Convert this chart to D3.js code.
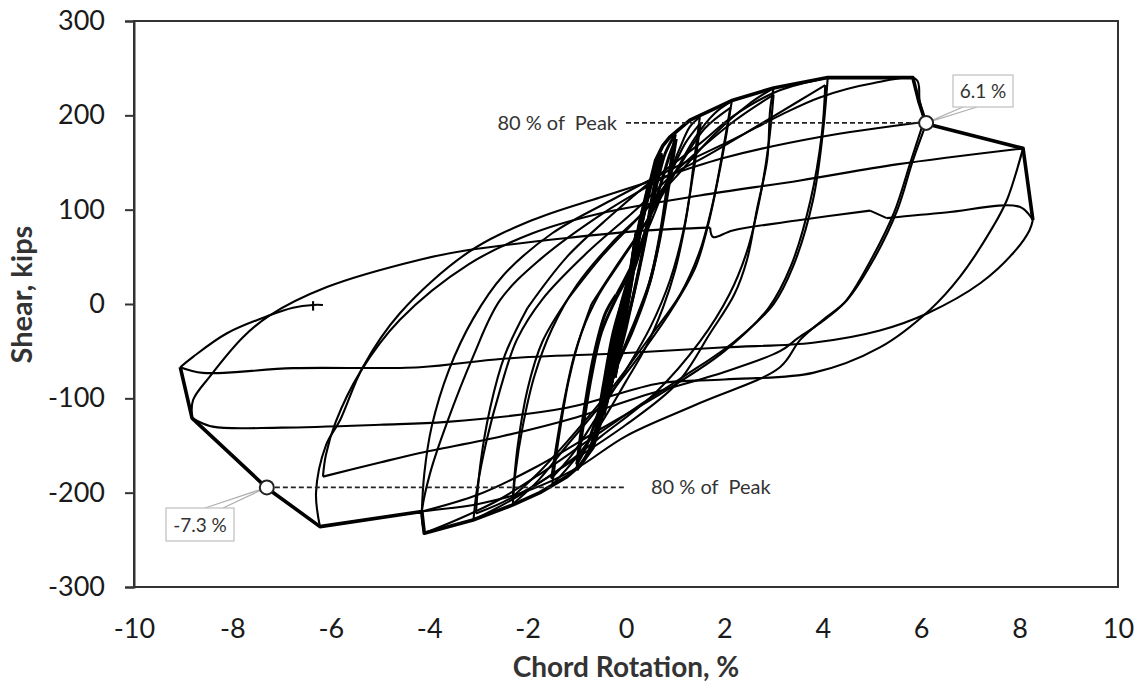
<!DOCTYPE html>
<html>
<head>
<meta charset="utf-8">
<script src="https://cdn.jsdelivr.net/npm/d3@7/dist/d3.min.js"></script>
<style>
  html, body { margin: 0; padding: 0; background: #fff; }
  svg { display: block; font-family: Lato, "Open Sans", sans-serif; }
</style>
</head>
<body>
<svg id="chart" width="1138" height="686"></svg>
<script>
// Axis ticks
const xTicks = [-10, -8, -6, -4, -2, 0, 2, 4, 6, 8, 10];
const yTicks = [-300, -200, -100, 0, 100, 200, 300];

// Hysteresis history, one array per drift level; each entry is one branch
// (load or unload) as [chord rotation %, shear kips] pairs.
const loops025 = [
  [[0, 0], [0.1, 38], [0.2, 74]],
  [[0.2, 74], [0.1, 36], [0, -2], [-0.1, -40], [-0.2, -72]],
  [[-0.2, -72], [-0.1, -34], [0, 3], [0.1, 40], [0.21, 76]],
  [[0.21, 76], [0.1, 32], [-0.02, -12], [-0.12, -48], [-0.22, -78]],
  [[-0.22, -78], [-0.1, -30], [0, 2]]
];
const loops035 = [
  [[0, 2], [0.14, 46], [0.27, 86], [0.38, 108]],
  [[0.38, 108], [0.25, 70], [0.1, 22], [-0.06, -26], [-0.22, -68], [-0.38, -102]],
  [[-0.38, -102], [-0.26, -64], [-0.1, -18], [0.06, 26], [0.21, 68], [0.37, 104]],
  [[0.37, 104], [0.22, 60], [0.06, 12], [-0.1, -36], [-0.26, -76], [-0.4, -106]],
  [[-0.4, -106], [-0.22, -54], [0, 2]]
];
const loops050 = [
  [[0, 2], [0.15, 48], [0.3, 92], [0.45, 125]],
  [[0.45, 125], [0.33, 92], [0.18, 45], [0.04, 0], [-0.12, -42], [-0.3, -86], [-0.45, -118]],
  [[-0.45, -118], [-0.34, -82], [-0.18, -36], [0, 6], [0.16, 50], [0.32, 94], [0.47, 122]],
  [[0.47, 122], [0.32, 84], [0.15, 34], [0, -10], [-0.18, -56], [-0.34, -94], [-0.47, -116]],
  [[-0.47, -116], [-0.3, -64], [-0.12, -14], [-0.02, 10]]
];
const loops075 = [
  [[-0.02, 10], [0.2, 58], [0.4, 106], [0.55, 140], [0.72, 160]],
  [[0.72, 160], [0.56, 122], [0.36, 62], [0.16, 12], [0, -26], [-0.2, -66], [-0.42, -108], [-0.62, -145]],
  [[-0.62, -145], [-0.48, -100], [-0.3, -46], [-0.1, 0], [0.15, 46], [0.4, 102], [0.6, 142], [0.74, 158]],
  [[0.74, 158], [0.53, 104], [0.3, 44], [0.1, -2], [-0.16, -48], [-0.4, -100], [-0.63, -140]],
  [[-0.63, -140], [-0.46, -86], [-0.26, -30], [-0.06, 6]]
];
const loops100 = [
  [[-0.06, 6], [0.2, 42], [0.45, 88], [0.65, 132], [0.8, 160], [1.0, 180]],
  [[1.0, 180], [0.86, 132], [0.7, 76], [0.5, 26], [0.25, -10], [0, -42], [-0.3, -82], [-0.55, -122], [-0.76, -156], [-1.0, -176]],
  [[-1.0, -176], [-0.86, -126], [-0.7, -76], [-0.5, -30], [-0.2, 6], [0.1, 36], [0.4, 78], [0.7, 126], [0.9, 160], [1.02, 175]],
  [[1.02, 175], [0.86, 122], [0.66, 62], [0.42, 12], [0.12, -30], [-0.2, -66], [-0.5, -106], [-0.8, -150], [-1.0, -170]],
  [[-1.0, -170], [-0.86, -116], [-0.66, -56], [-0.42, -10], [-0.2, 10]]
];
const loops150 = [
  [[-0.2, 10], [0.1, 40], [0.5, 86], [0.8, 126], [1.1, 166], [1.3, 188], [1.5, 198]],
  [[1.5, 198], [1.38, 150], [1.22, 90], [1.0, 36], [0.75, -4], [0.4, -46], [0, -82], [-0.5, -126], [-1.0, -162], [-1.5, -192]],
  [[-1.5, -192], [-1.36, -140], [-1.16, -80], [-0.9, -30], [-0.55, 10], [-0.1, 46], [0.4, 86], [0.8, 126], [1.2, 170], [1.52, 192]],
  [[1.52, 192], [1.36, 136], [1.16, 76], [0.9, 26], [0.5, -24], [0, -70], [-0.6, -120], [-1.1, -160], [-1.52, -185]],
  [[-1.52, -185], [-1.32, -120], [-1.06, -56], [-0.7, 0]]
];
const loops200 = [
  [[-0.7, 0], [-0.2, 40], [0.4, 86], [0.9, 130], [1.4, 176], [1.8, 202], [2.15, 215]],
  [[2.15, 215], [2.04, 180], [1.88, 135], [1.66, 82], [1.42, 40], [1.0, 0], [0.4, -46], [-0.4, -100], [-1.2, -150], [-1.8, -188], [-2.3, -212]],
  [[-2.3, -212], [-2.25, -180], [-2.1, -130], [-1.86, -76], [-1.5, -26], [-1.0, 20], [-0.3, 64], [0.4, 100], [1.0, 140], [1.6, 186], [2.12, 208]],
  [[2.12, 208], [1.96, 160], [1.76, 106], [1.5, 56], [1.1, 10], [0.5, -34], [-0.3, -90], [-1.1, -140], [-1.8, -180], [-2.3, -204]],
  [[-2.3, -204], [-2.2, -150], [-2.0, -90], [-1.7, -40], [-1.2, 4]]
];
const loops300 = [
  [[-1.2, 4], [-0.5, 50], [0.3, 94], [1.0, 134], [1.8, 180], [2.5, 212], [3.0, 229]],
  [[3.0, 229], [2.93, 206], [2.87, 153], [2.66, 100], [2.46, 47], [2.2, 10], [1.71, -31], [1.04, -84], [0, -128], [-1.2, -170], [-2.2, -204], [-3.1, -229]],
  [[-3.1, -229], [-3.03, -197], [-2.83, -144], [-2.56, -91], [-2.22, -38], [-1.7, 5], [-0.8, 54], [0.2, 100], [1.2, 150], [2.2, 194], [3.0, 222]],
  [[3.0, 222], [2.9, 170], [2.72, 112], [2.46, 56], [2.1, 10], [1.5, -40], [0.6, -94], [-0.5, -140], [-1.6, -184], [-2.5, -210], [-3.05, -222]],
  [[-3.05, -222], [-2.96, -170], [-2.76, -110], [-2.46, -54], [-2.0, -4]]
];
const loops400 = [
  [[-2.0, -4], [-1.2, 50], [-0.3, 94], [0.6, 134], [1.5, 170], [2.2, 200], [3.1, 226], [4.1, 240]],
  [[4.1, 240], [4.0, 181], [3.8, 110], [3.39, 39], [3.0, 0], [2.2, -40], [1.2, -76], [0.2, -110], [-0.8, -146], [-1.8, -182], [-2.6, -208], [-3.4, -228], [-4.1, -243]],
  [[-4.1, -243], [-4.15, -222], [-3.98, -179], [-3.64, -126], [-3.11, -56], [-2.56, 4], [-1.75, 47], [-0.53, 94], [0.49, 126], [1.5, 153], [2.52, 184], [3.54, 216], [4.05, 232]],
  [[4.05, 232], [3.98, 180], [3.75, 110], [3.35, 40], [2.9, -4], [2.0, -50], [0.8, -92], [-0.5, -132], [-1.8, -172], [-3.0, -202], [-4.15, -220]]
];
const loops600 = [
  [[-4.15, -220], [-4.1, -180], [-3.95, -130], [-3.6, -70], [-3.1, -15], [-2.5, 30], [-1.5, 75], [-0.3, 110], [1.0, 145], [2.2, 175], [3.13, 200], [3.94, 219], [5.02, 234], [5.9, 238], [5.97, 215], [6.1, 191]],
  [[6.1, 191], [5.83, 152], [5.51, 99], [5.02, 46], [4.49, 4], [4.0, -17], [3.54, -38], [3.13, -67], [1.5, -105], [0, -140], [-1.0, -174], [-2.0, -198], [-3.0, -212], [-4.15, -220], [-5.2, -228], [-6.22, -236]],
  [[-6.22, -236], [-6.3, -200], [-6.1, -150], [-5.81, -123], [-5.35, -67], [-4.6, -10], [-3.2, 55], [-1.9, 89], [-0.53, 113], [0.55, 131], [2.0, 155], [3.94, 177], [6.05, 193]],
  [[6.05, 193], [5.78, 150], [5.45, 97], [4.95, 44], [4.45, 2], [3.95, -20], [3.5, -36], [3.13, -50], [2.0, -72], [0.5, -95], [-1.0, -120], [-2.5, -140], [-4.19, -158], [-5.0, -168], [-6.16, -183]],
  [[-6.16, -183], [-6.1, -160], [-5.9, -125], [-5.4, -72], [-4.6, -17], [-3.2, 42], [-1.9, 75], [-0.53, 96], [1.5, 115], [3.54, 131], [5.5, 148], [8.07, 165]]
];
const loops800 = [
  [[8.07, 165], [7.74, 110], [7.46, 82], [6.79, 29], [6.18, -6], [5.16, -46], [3.8, -73], [2.0, -80], [0.69, -84], [-1.2, -110], [-3.64, -125], [-5.0, -128], [-7.0, -131], [-8.4, -130], [-8.82, -121]],
  [[-8.82, -121], [-8.8, -102], [-8.46, -77], [-7.78, -35], [-7.24, -12], [-6.08, 18], [-4.19, 47], [-3.23, 57], [-1.2, 70], [0.43, 78], [1.71, 81]],
  [[1.71, 81], [1.77, 71], [2.17, 78], [3.54, 89], [4.96, 99]],
  [[4.96, 99], [5.3, 91]],
  [[5.3, 91], [6.5, 97], [8.0, 103], [8.27, 89]],
  [[8.27, 89], [8.2, 78], [7.87, 54], [7.2, 22], [6.12, -10], [5.16, -28], [3.8, -41], [2.0, -46], [0, -52], [-2.5, -58], [-4.19, -67], [-6.77, -68], [-8.6, -73], [-9.06, -67]],
  [[-9.06, -67], [-8.8, -56], [-8.11, -31], [-7.24, -12], [-6.77, -4], [-6.36, -1], [-6.16, -1]]
];
// Short tick where the record stops
const endMark = [[-6.36, 3], [-6.36, -7]];

// Envelope through the cycle peaks
const backbone = [
  [-9.06, -67], [-8.82, -121], [-7.3, -195], [-6.22, -236], [-4.15, -220], [-4.1, -243],
  [-3.11, -229], [-2.3, -213], [-1.75, -200], [-1.2, -183], [-0.93, -171], [-0.67, -152],
  [-0.59, -137], [-0.45, -100], [-0.26, -38], [0, 0], [0.2, 55], [0.45, 120], [0.6, 152],
  [0.75, 168], [0.89, 177], [1.3, 195], [2.17, 216], [3.0, 229], [4.1, 240], [5.83, 240],
  [5.95, 215], [6.1, 191], [8.07, 165], [8.27, 89]
];

// Peak shear and the 80 % drift points
const peakShear = [240, -243];
const drift80 = [6.1, -7.3];
const drift80Labels = ["6.1 %", "-7.3 %"];

const svg = d3.select("#chart");
const x = d3.scaleLinear().domain([-10, 10]).range([134, 1118]);
const y = d3.scaleLinear().domain([-300, 300]).range([587, 21]);

const smooth = d3.line().x(d => x(d[0])).y(d => y(d[1])).curve(d3.curveCatmullRom.alpha(0.5));
const straight = d3.line().x(d => x(d[0])).y(d => y(d[1]));
const plain = d => String(d);

// Plot frame
svg.append("rect")
  .attr("x", x(-10)).attr("y", y(300))
  .attr("width", x(10) - x(-10)).attr("height", y(-300) - y(300))
  .attr("fill", "none").attr("stroke", "#333").attr("stroke-width", 2);

// Y axis with outward ticks
const yAxis = svg.append("g")
  .attr("transform", `translate(${x(-10)},0)`)
  .call(d3.axisLeft(y).tickValues(yTicks).tickFormat(plain).tickSize(9).tickPadding(20));
yAxis.select(".domain").attr("stroke", "#333").attr("stroke-width", 2);
yAxis.selectAll(".tick line").attr("stroke", "#333").attr("stroke-width", 2);
yAxis.selectAll("text").attr("font-size", 27).attr("fill", "#1a1a1a")
  .attr("font-family", "Lato, sans-serif");

// X axis labels only
const xAxis = svg.append("g")
  .attr("transform", `translate(0,${y(-300)})`)
  .call(d3.axisBottom(x).tickValues(xTicks).tickFormat(plain).tickSize(0).tickPadding(32));
xAxis.select(".domain").remove();
xAxis.selectAll("text").attr("font-size", 27).attr("fill", "#1a1a1a")
  .attr("font-family", "Lato, sans-serif");

// Axis titles
svg.append("text")
  .attr("x", x(0)).attr("y", 677)
  .attr("text-anchor", "middle").attr("font-size", 28).attr("font-weight", "bold").attr("fill", "#333")
  .text("Chord Rotation, %");
svg.append("text")
  .attr("transform", `translate(32,${y(10)}) rotate(-90)`)
  .attr("text-anchor", "middle").attr("font-size", 29).attr("font-weight", "bold").attr("fill", "#333")
  .text("Shear, kips");

// Hysteresis loops
const smallLoops = [loops025, loops035, loops050, loops075, loops100];
const largeLoops = [loops150, loops200, loops300, loops400, loops600, loops800];
const gSmall = svg.append("g").attr("fill", "none").attr("stroke", "#000")
  .attr("stroke-width", 3).attr("stroke-linejoin", "round");
smallLoops.forEach(level => {
  level.forEach(branch => gSmall.append("path").attr("d", smooth(branch)));
});
const gLoops = svg.append("g").attr("fill", "none").attr("stroke", "#000")
  .attr("stroke-width", 2.1).attr("stroke-linejoin", "round");
largeLoops.forEach(level => {
  level.forEach(branch => gLoops.append("path").attr("d", smooth(branch)));
});
gLoops.append("path").attr("d", straight(endMark));

// Envelope
svg.append("path").attr("d", straight(backbone))
  .attr("fill", "none").attr("stroke", "#000").attr("stroke-width", 3.6)
  .attr("stroke-linejoin", "round");

// 80 % of peak markers
const gAnn = svg.append("g");
const v80 = peakShear.map(v => 0.8 * v);
gAnn.append("line")
  .attr("x1", x(0)).attr("x2", x(drift80[0]))
  .attr("y1", y(v80[0])).attr("y2", y(v80[0]))
  .attr("stroke", "#222").attr("stroke-width", 1.6).attr("stroke-dasharray", "5,3");
gAnn.append("line")
  .attr("x1", x(drift80[1])).attr("x2", x(0))
  .attr("y1", y(v80[1])).attr("y2", y(v80[1]))
  .attr("stroke", "#222").attr("stroke-width", 1.6).attr("stroke-dasharray", "5,3");
gAnn.append("text")
  .attr("x", x(0) - 9).attr("y", y(v80[0]) + 7)
  .attr("text-anchor", "end").attr("font-size", 20).attr("fill", "#333")
  .attr("xml:space", "preserve").text("80 % of  Peak");
gAnn.append("text")
  .attr("x", x(0) + 25).attr("y", y(v80[1]) + 7)
  .attr("text-anchor", "start").attr("font-size", 20).attr("fill", "#333")
  .attr("xml:space", "preserve").text("80 % of  Peak");

// Callouts for the drift at 80 % of peak
const callouts = [
  { px: x(drift80[0]), py: y(v80[0]), bx: 953, by: 75, bw: 60, bh: 32, text: drift80Labels[0], l1: 963, l2: 977, edge: 107 },
  { px: x(drift80[1]), py: y(v80[1]), bx: 166, by: 508, bw: 68, bh: 33, text: drift80Labels[1], l1: 205, l2: 223, edge: 508 }
];
callouts.forEach(c => {
  gAnn.append("path")
    .attr("d", `M${c.px},${c.py} L${c.l1},${c.edge} M${c.px},${c.py} L${c.l2},${c.edge}`)
    .attr("stroke", "#b0b0b0").attr("stroke-width", 1.2).attr("fill", "none");
  gAnn.append("rect")
    .attr("x", c.bx).attr("y", c.by).attr("width", c.bw).attr("height", c.bh)
    .attr("fill", "#fff").attr("stroke", "#bfbfbf").attr("stroke-width", 1.2);
  gAnn.append("text")
    .attr("x", c.bx + c.bw / 2).attr("y", c.by + c.bh / 2 + 7)
    .attr("text-anchor", "middle").attr("font-size", 19).attr("fill", "#333")
    .text(c.text);
});
drift80.forEach((d, i) => {
  gAnn.append("circle")
    .attr("cx", x(d)).attr("cy", y(v80[i])).attr("r", 7)
    .attr("fill", "#fff").attr("stroke", "#222").attr("stroke-width", 2);
});
</script>
</body>
</html>
